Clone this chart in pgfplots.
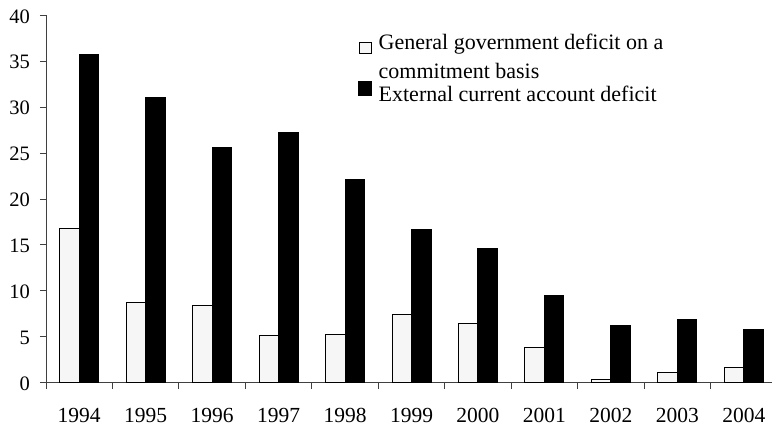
\documentclass[border=0pt]{standalone}
\usepackage{fontspec}
\setmainfont{Liberation Serif}
\usepackage{pgfplots}
\pgfplotsset{compat=1.18}
\definecolor{lightbar}{HTML}{F6F6F6}
\begin{document}
\fontsize{22bp}{25bp}\selectfont
\begin{tikzpicture}
\useasboundingbox (-46bp,-42.3bp) rectangle (726bp,382.7bp);
\begin{axis}[
  at={(0,0)}, anchor=south west,
  scale only axis, width=731bp, height=367.4bp,
  xmin=-0.5, xmax=10.5, ymin=0, ymax=40,
  axis lines*=left,
  axis line style={line width=0.9bp, black!75},
  ybar=0pt, bar width=19.5bp,
  xtick={0,...,10},
  xticklabels={1994,1995,1996,1997,1998,1999,2000,2001,2002,2003,2004},
  minor xtick={-0.5,0.5,...,9.5},
  every major x tick/.append style={draw=none},
  ytick={0,5,...,40},
  tick align=outside,
  major tick length=6bp, minor tick length=6.5bp,
  tick style={line width=0.9bp, black!75},
  /pgf/number format/assume math mode=true,
  yticklabel style={font=\fontsize{20.5bp}{24bp}\selectfont, anchor=east, inner sep=0pt, xshift=-10bp, yshift=-1bp},
  xticklabel style={font=\fontsize{21.5bp}{25bp}\selectfont, anchor=north, inner sep=0pt, yshift=-19bp},
  legend style={draw=none, fill=none, at={(0.4227,0.96)}, anchor=north west,
    font=\fontsize{22bp}{25bp}\selectfont, row sep=-3bp,
    cells={align=left, anchor=base west},
    /tikz/every odd column/.append style={column sep=4.5bp}},
  legend cell align=left,
]
\addplot[fill=lightbar, draw=black, line width=1bp,
  legend image code/.code={\draw[fill=lightbar, draw=black, line width=0.8bp] (0.5bp,4.5bp) rectangle (12.5bp,15.5bp);}]
  coordinates {(0,16.8) (1,8.7) (2,8.4) (3,5.1) (4,5.3) (5,7.45) (6,6.4) (7,3.8) (8,0.4) (9,1.1) (10,1.7)};
\addlegendentry{General government deficit on a\\[4bp]commitment basis}
\addplot[fill=black, draw=black, line width=1bp,
  legend image code/.code={\fill[black] (0bp,0bp) rectangle (13bp,14bp);}]
  coordinates {(0,35.7) (1,31.0) (2,25.6) (3,27.2) (4,22.1) (5,16.7) (6,14.6) (7,9.5) (8,6.2) (9,6.9) (10,5.8)};
\addlegendentry{External current account deficit}
\end{axis}
\end{tikzpicture}
\end{document}
